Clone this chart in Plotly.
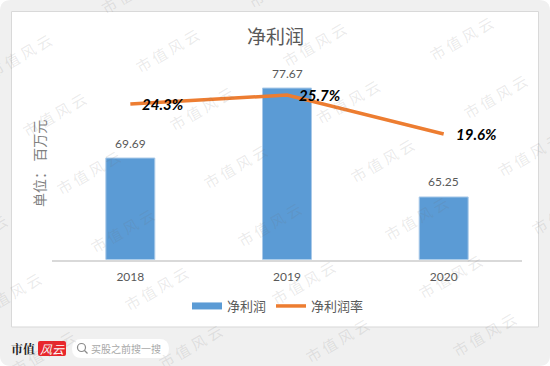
import plotly.graph_objects as go

years = ["2018", "2019", "2020"]
net_profit = [69.69, 77.67, 65.25]
net_margin = [24.3, 25.7, 19.6]

W, H = 550, 366
CJK = "Noto Sans CJK SC"
LAT = "Lato"
def px(x): return x / W
def py(y): return 1 - y / H
pos = list(range(len(years)))

fig = go.Figure()
fig.add_bar(x=pos, y=net_profit, width=0.3125, marker=dict(color="#5b9bd5", line=dict(color="#a9c9e8", width=1)),
            showlegend=False, hoverinfo="skip")
# legend swatch for the bars (plotly bar swatches are fixed squares)
fig.add_scatter(x=[None], y=[None], mode="lines", name="净利润", line=dict(color="#5b9bd5", width=7))
fig.add_scatter(x=pos, y=net_margin, yaxis="y2", mode="lines", name="净利润率",
                line=dict(color="#ed7d31", width=3.5), hoverinfo="skip")

ann = []
for p, v in zip(pos, net_profit):
    ann.append(dict(x=p, y=v, xref="x", yref="y", text=f"{v:.2f}", showarrow=False, yshift=15,
                    font=dict(family=LAT, size=12, color="#595959")))
for p, v in zip(pos, net_margin):
    ann.append(dict(x=p, y=v, xref="x", yref="y2", text=f"<b><i>{v:.1f}%</i></b>", showarrow=False, xanchor="left",
                    xshift=10, font=dict(family=LAT, size=15, color="#000000")))

def page_text(x, y, text, size, color, family=CJK, **kw):
    ann.append(dict(x=px(x), y=py(y), xref="paper", yref="paper", text=text, showarrow=False,
                    xanchor="center", yanchor="middle",
                    font=dict(family=family, size=size, color=color), **kw))

page_text(275.5, 35, "净利润", 19, "#595959")
page_text(39, 164, "单位： 百万元", 14, "#7f7f7f", textangle=-90)
page_text(23, 348, "<b>市值</b>", 12, "#222222", family="Noto Serif CJK SC, Noto Sans CJK SC")
page_text(52, 348, "<i>风云</i>", 12, "#ffffff")
page_text(126, 348.5, "买股之前搜一搜", 10, "#a8a8a8")

# watermark lattice
for i in range(-3, 6):
    for j in range(-3, 7):
        cx = 167 + 34 * j + 147 * i
        cy = 50 + 58 * j - 6 * i
        if -35 < cx < W + 35 and -20 < cy < H + 20:
            page_text(cx, cy, "市 值 风 云", 15, "rgba(110,110,110,0.14)", textangle=-30)

def rrect(x0, y0, x1, y1, r):
    def P(x, y): return f"{px(x):.5f},{py(y):.5f}"
    return (f"M{P(x0+r,y0)} L{P(x1-r,y0)} Q{P(x1,y0)} {P(x1,y0+r)} L{P(x1,y1-r)} Q{P(x1,y1)} {P(x1-r,y1)} "
            f"L{P(x0+r,y1)} Q{P(x0,y1)} {P(x0,y1-r)} L{P(x0,y0+r)} Q{P(x0,y0)} {P(x0+r,y0)} Z")

def page_shape(path, **kw):
    return dict(type="path", path=path, xref="paper", yref="paper", layer="below", **kw)

shapes = [
    page_shape(rrect(0, 0, 550, 366, 11), fillcolor="#f0f0f0", line=dict(width=0)),
    page_shape(rrect(11.5, 11.5, 538.5, 327, 0.1), fillcolor="#ffffff", line=dict(color="#d9d9d9", width=1)),
    page_shape(rrect(38, 341, 66, 356, 2), fillcolor="#e8272c", line=dict(width=0)),
    page_shape(rrect(72, 339, 169, 358, 9.5), fillcolor="#ffffff", line=dict(width=0)),
    dict(type="circle", xref="paper", yref="paper", x0=px(77.5), y0=py(351.5), x1=px(85.5), y1=py(343.5), line=dict(color="#8a8a8a", width=1.2)),
    dict(type="line", xref="paper", yref="paper", x0=px(84.5), y0=py(350.5), x1=px(87.5), y1=py(353.5), line=dict(color="#8a8a8a", width=1.2)),
]

axis_grey = "#d9d9d9"
fig.update_layout(
    width=W, height=H, margin=dict(l=0, r=0, t=0, b=0, autoexpand=False), autosize=False,
    paper_bgcolor="#ffffff", plot_bgcolor="rgba(0,0,0,0)",
    xaxis=dict(domain=[px(52), px(522)], range=[-0.5, 2.5], tickmode="array", tickvals=pos, ticktext=years,
               showgrid=False, zeroline=False,
               showline=True, linecolor=axis_grey, linewidth=1.5, ticks="outside", ticklen=5,
               tickcolor="rgba(0,0,0,0)", tickfont=dict(family=LAT, size=12, color="#595959"), anchor="y"),
    yaxis=dict(domain=[py(259.5), py(60)], range=[58.12, 80.87], visible=False),
    yaxis2=dict(domain=[py(259.5), py(60)], range=[0, 31.17], overlaying="y", side="right", visible=False),
    legend=dict(orientation="h", x=px(187), y=py(306), xanchor="left", yanchor="middle",
                font=dict(family=CJK, size=13, color="#595959"), itemwidth=30, bgcolor="rgba(0,0,0,0)",
                tracegroupgap=0),
    annotations=ann, shapes=shapes,
)
fig.write_html("out.html", config=dict(displayModeBar=False),
               post_script="document.body.style.margin='0';")
